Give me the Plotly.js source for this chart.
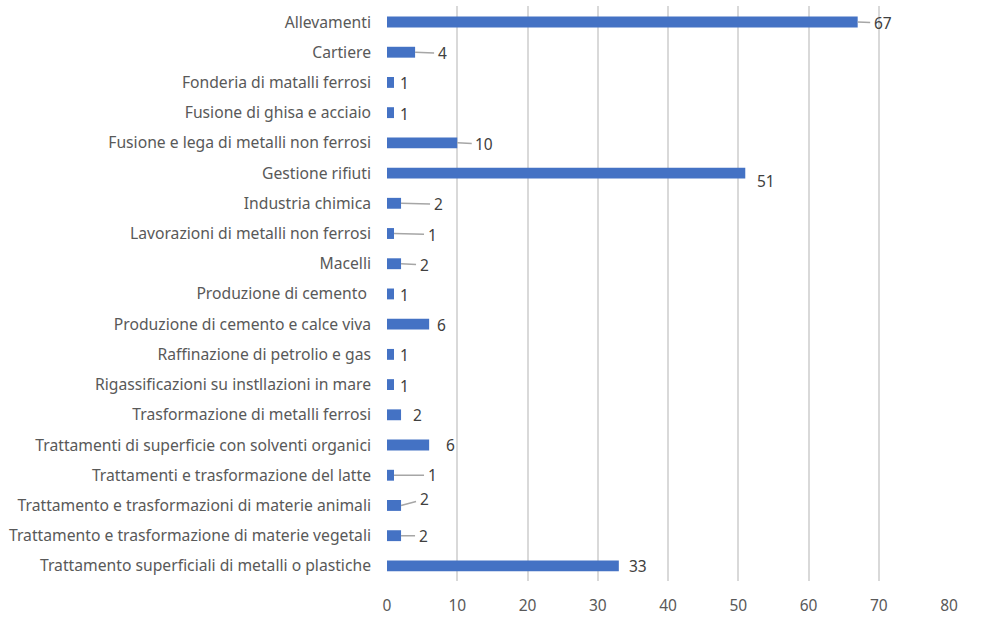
<!DOCTYPE html>
<html>
<head>
<meta charset="utf-8">
<script src="https://cdn.plot.ly/plotly-3.0.1.min.js"></script>
<style>html,body{margin:0;padding:0;background:#fff;}#chart{width:984px;height:632px;}</style>
</head>
<body>
<div id="chart"></div>
<script>
const categories = [
  "Allevamenti",
  "Cartiere",
  "Fonderia di matalli ferrosi",
  "Fusione di ghisa e acciaio",
  "Fusione e lega di metalli non ferrosi",
  "Gestione rifiuti",
  "Industria chimica",
  "Lavorazioni di metalli non ferrosi",
  "Macelli",
  "Produzione di cemento ",
  "Produzione di cemento e calce viva",
  "Raffinazione di petrolio e gas",
  "Rigassificazioni su instllazioni in mare",
  "Trasformazione di metalli ferrosi",
  "Trattamenti di superficie con solventi organici",
  "Trattamenti e trasformazione del latte",
  "Trattamento e trasformazioni di materie animali",
  "Trattamento e trasformazione di materie vegetali",
  "Trattamento superficiali di metalli o plastiche"
];
const values = [67, 4, 1, 1, 10, 51, 2, 1, 2, 1, 6, 1, 1, 2, 6, 1, 2, 2, 33];
const xTicks = [0, 10, 20, 30, 40, 50, 60, 70, 80];

// label placement (pixel offsets from bar end) and whether a leader line is shown
const labelDx = [25, 27, 10, 10, 27, 21, 37, 38, 23, 10, 12, 10, 10, 16, 21, 38, 23, 22, 19];
const labelDy = [1, 1, 1, 1, 1, 8, 1, 1, 1, 1, 1, 1, 1, 0, 0, 0, -6, 0, 0];
const leader = [1, 1, 0, 0, 1, 0, 1, 1, 1, 0, 0, 0, 0, 0, 0, 1, 1, 1, 0];

const FONT = "Noto Sans, sans-serif";

const annotations = values.map((v, i) => ({
  x: v, y: categories[i], xref: "x", yref: "y",
  text: String(v),
  showarrow: true,
  arrowhead: 0,
  arrowwidth: 1.5,
  arrowcolor: leader[i] ? "#a6a6a6" : "rgba(0,0,0,0)",
  ax: labelDx[i], ay: labelDy[i],
  borderpad: 3,
  font: {family: FONT, size: 15.5, color: "#404040"}
}));

const trace = {
  type: "bar",
  orientation: "h",
  x: values,
  y: categories,
  width: 0.36,
  marker: {color: "#4472C4"},
  hoverinfo: "x+y"
};

const layout = {
  width: 984, height: 632,
  margin: {l: 387, r: 35, t: 6, b: 51},
  paper_bgcolor: "#fff", plot_bgcolor: "#fff",
  showlegend: false,
  font: {family: FONT, color: "#595959"},
  xaxis: {
    range: [0, 80],
    tickvals: xTicks,
    ticktext: xTicks.map(String),
    showgrid: true, gridcolor: "#d9d9d9", gridwidth: 2,
    zeroline: false, showline: false,
    ticks: "", ticklabelstandoff: 13,
    tickfont: {family: FONT, size: 15.5, color: "#595959"}
  },
  yaxis: {
    autorange: "reversed",
    showgrid: false, zeroline: false, showline: false,
    ticks: "", ticklabelstandoff: 15,
    tickfont: {family: FONT, size: 15.7, color: "#595959"}
  },
  annotations: annotations
};

Plotly.newPlot("chart", [trace], layout, {displayModeBar: false, staticPlot: true});
</script>
</body>
</html>
